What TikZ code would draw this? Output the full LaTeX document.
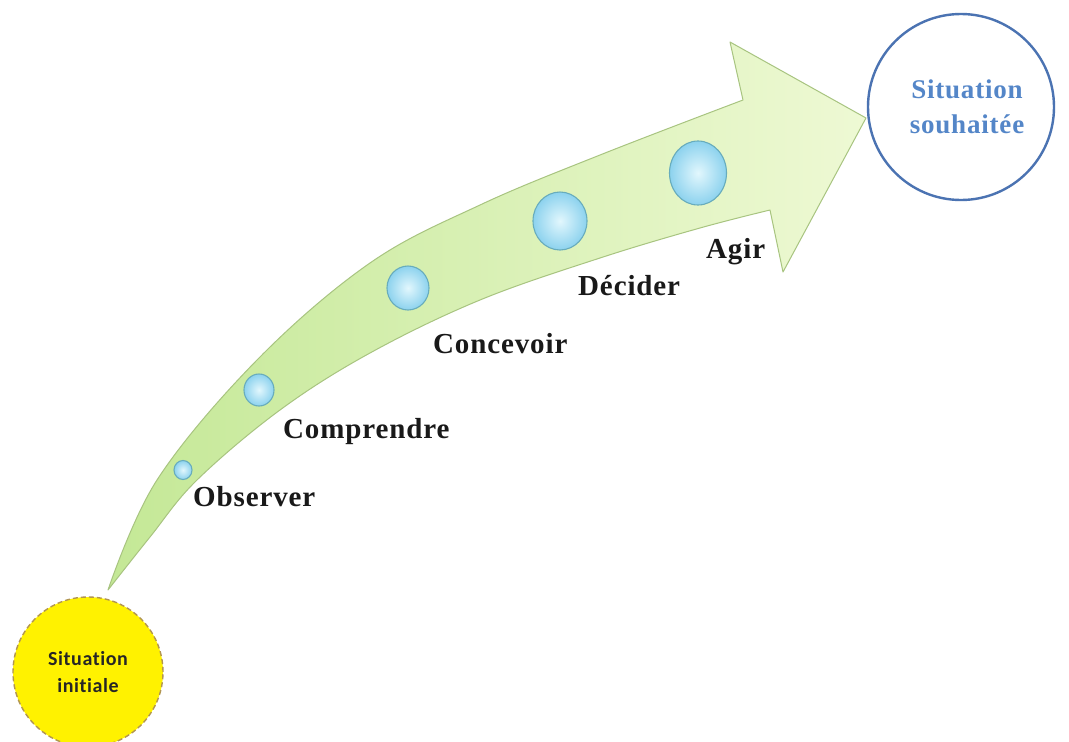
\documentclass[tikz,border=0pt]{standalone}
\usepackage{fontspec}
\usetikzlibrary{shapes.geometric}
\newfontfamily\stepfont{Liberation Serif}[LetterSpace=3]
\newfontfamily\startfont{Carlito}[LetterSpace=3, Ligatures=NoCommon]
\definecolor{arrowedge}{RGB}{168,196,128}
\definecolor{arrowdark}{RGB}{196,232,150}
\definecolor{arrowmid}{RGB}{224,243,190}
\definecolor{arrowlight}{RGB}{238,249,212}
\definecolor{bubbleinner}{RGB}{226,247,253}
\definecolor{bubbleouter}{RGB}{140,210,238}
\definecolor{bubbleedge}{RGB}{104,172,188}
\definecolor{goalblue}{RGB}{75,115,178}
\definecolor{goaltext}{RGB}{84,134,200}
\definecolor{startyellow}{RGB}{255,242,0}
\definecolor{startedge}{RGB}{178,150,80}
\tikzset{
  stepbubble/.style={ellipse, inner sep=0pt, draw=bubbleedge, line width=1.1pt,
    shading=radial, inner color=bubbleinner, outer color=bubbleouter},
  steplabel/.style={anchor=base west, inner sep=0pt,
    font=\stepfont\bfseries\fontsize{29}{31}\selectfont, text=black!90},
}
\begin{document}
\begin{tikzpicture}[x=1pt,y=-1pt]
\useasboundingbox (0,0) rectangle (1069,742);
\fill[white] (0,0) rectangle (1069,742);

% curved arrow from the starting point towards the goal
\path[draw=arrowedge, line width=1pt, line join=round,
      left color=arrowdark, middle color=arrowmid, right color=arrowlight]
  plot[smooth, tension=0.6] coordinates {(108,590) (157,480) (257,360) (370,263) (480,205) (600,155) (743,100)}
  -- (730,42) -- (866,118) -- (783,272) -- (770,210)
  -- plot[smooth, tension=0.6] coordinates {(770,210) (700,228) (600,258) (480,300) (370,353) (280,410) (197,480) (150,537) (108,590)}
  -- cycle;

% growing bubbles along the arrow
\node[stepbubble, minimum width=18pt, minimum height=19pt] (b1) at (183,470) {};
\node[stepbubble, minimum width=30pt, minimum height=32pt] (b2) at (259,390) {};
\node[stepbubble, minimum width=42pt, minimum height=44pt] (b3) at (408,288) {};
\node[stepbubble, minimum width=54pt, minimum height=58pt] (b4) at (560,221) {};
\node[stepbubble, minimum width=57pt, minimum height=64pt] (b5) at (698,173) {};

% step labels
\node[steplabel] (l1) at (193,506) {Observer};
\node[steplabel] (l2) at (283,438) {Comprendre};
\node[steplabel] (l3) at (433,353) {Concevoir};
\node[steplabel] (l4) at (578,295) {Décider};
\node[steplabel] (l5) at (706,258) {Agir};

% start and goal
\node[circle, minimum size=150pt, inner sep=0pt, fill=startyellow,
      draw=startedge, line width=1.4pt, dash pattern=on 5pt off 3pt,
      font=\startfont\bfseries\fontsize{20}{27}\selectfont, text=black!85,
      align=center] (start) at (88,672) {Situation\\initiale};
\node[circle, minimum size=186pt, inner sep=0pt, draw=goalblue, line width=2.4pt,
      font=\stepfont\bfseries\fontsize{27}{35}\selectfont, text=goaltext,
      align=center] (goal) at (961,107) {\hspace*{12pt}Situation\\\hspace*{12pt}souhaitée};
\end{tikzpicture}
\end{document}
